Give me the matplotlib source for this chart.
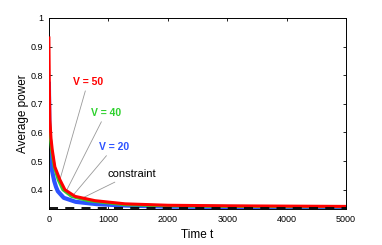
import matplotlib
matplotlib.use("Agg")
import matplotlib.pyplot as plt
from matplotlib.ticker import FuncFormatter

plt.rcParams['font.family'] = ['Liberation Sans', 'DejaVu Sans']

# Data
t_v50 = [0, 8, 17, 35, 56, 100, 185, 270, 440, 775, 1280, 2000, 3000, 4000, 5000]
p_v50 = [0.93, 0.75, 0.644, 0.58, 0.54, 0.48, 0.435, 0.40, 0.377, 0.362, 0.351, 0.346, 0.344, 0.343, 0.342]

t_v40 = [0, 10, 25, 45, 90, 157, 236, 380, 660, 1280, 2000, 3000, 4000, 5000]
p_v40 = [0.70, 0.63, 0.58, 0.54, 0.48, 0.435, 0.40, 0.377, 0.362, 0.348, 0.344, 0.342, 0.341, 0.341]

t_v20 = [0, 8, 25, 50, 70, 90, 120, 150, 250, 450, 800, 1280, 2000, 3000, 4000, 5000]
p_v20 = [0.77, 0.62, 0.54, 0.47, 0.45, 0.43, 0.41, 0.395, 0.372, 0.358, 0.350, 0.345, 0.341, 0.340, 0.339, 0.339]

constraint_value = 0.336
x_range = [0, 5000]

x_ticks = [0, 1000, 2000, 3000, 4000, 5000]
y_ticks = [0.4, 0.5, 0.6, 0.7, 0.8, 0.9, 1.0]

RED = '#ff0000'
GREEN = '#2ed12e'
BLUE = '#2c52ff'

fig = plt.figure(figsize=(3.82, 2.45), dpi=100)
ax = fig.add_axes([0.128, 0.147, 0.778, 0.780])

ax.plot(t_v20, p_v20, color=BLUE, lw=3.0, zorder=2)
ax.plot(t_v40, p_v40, color=GREEN, lw=2.2, zorder=3)
ax.plot(t_v50, p_v50, color=RED, lw=2.2, zorder=4)
ax.plot(x_range, [constraint_value, constraint_value], color='black', lw=1.3,
        ls=(0, (5, 4)), zorder=5)

ax.set_xlim(0, 5000)
ax.set_ylim(0.333, 1.0)
ax.set_xticks(x_ticks)
ax.set_yticks(y_ticks)
ax.yaxis.set_major_formatter(FuncFormatter(lambda v, p: '1' if abs(v - 1) < 1e-9 else f'{v:.1f}'))
ax.tick_params(direction='in', top=True, right=True, labelsize=6.5, length=2.5, width=0.6, pad=4)
for s in ax.spines.values():
    s.set_linewidth(0.7)

ax.set_xlabel('Time t', fontsize=8.5, labelpad=4)
ax.set_ylabel('Average power', fontsize=8.5, labelpad=1)

gray = dict(arrowstyle='-', color='#999999', lw=0.6, shrinkA=1, shrinkB=0)
ax.annotate('V = 50', xy=(185, 0.435), xytext=(657, 0.777), color=RED, fontsize=7.5,
            fontweight='bold', ha='center', va='center', arrowprops=gray)
ax.annotate('V = 40', xy=(286, 0.393), xytext=(960, 0.669), color=GREEN, fontsize=7.5,
            fontweight='bold', ha='center', va='center', arrowprops=gray)
ax.annotate('V = 20', xy=(387, 0.376), xytext=(1094, 0.55), color=BLUE, fontsize=7.5,
            fontweight='bold', ha='center', va='center', arrowprops=gray)
ax.annotate('constraint', xy=(572, 0.372), xytext=(1397, 0.456), color='black', fontsize=8,
            ha='center', va='center', arrowprops=gray)

fig.savefig('out.png', dpi=100)
